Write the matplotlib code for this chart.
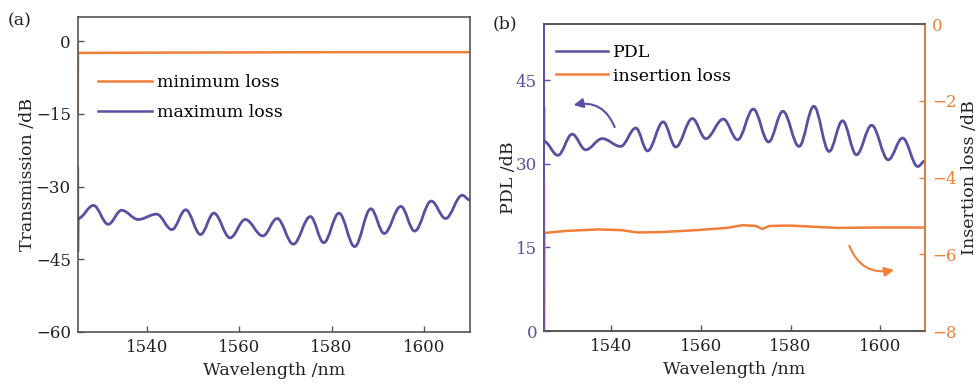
import matplotlib
matplotlib.use("Agg")
import matplotlib.pyplot as plt
from matplotlib.path import Path
from matplotlib.patches import PathPatch
from matplotlib.lines import Line2D

plt.rcParams['font.family'] = ['DejaVu Serif']
plt.rcParams['axes.unicode_minus'] = True

ORANGE = '#f07f3a'
PURPLE = '#5a4fa0'
GRAY = '#555555'
TXT = '#222222'

# (a) transmission
a_max_x = [1525.0, 1525.0, 1525.05, 1528.4, 1531.6, 1534.5, 1538.1, 1542.1, 1545.4,
           1548.4, 1551.6, 1554.5, 1558.0, 1561.3, 1565.1, 1568.2, 1571.7, 1575.4,
           1578.3, 1581.6, 1585.0, 1588.5, 1591.4, 1595.0, 1598.0, 1601.6, 1604.7,
           1608.3, 1610.0]
a_max_y = [-26.0, -43.5, -36.6, -33.9, -37.8, -34.9, -36.8, -35.7, -38.9,
           -34.8, -39.9, -35.5, -40.6, -36.8, -40.2, -36.6, -41.9, -36.2,
           -41.6, -35.5, -42.4, -34.6, -39.7, -34.1, -39.2, -33.0, -36.6,
           -31.8, -32.8]
a_min_x = [1525.0, 1525.0, 1525.05, 1540.0, 1560.0, 1580.0, 1600.0, 1610.0]
a_min_y = [-0.5, -15.3, -2.4, -2.35, -2.3, -2.25, -2.25, -2.25]

# (b) PDL (left axis) and insertion loss (right axis)
b_pdl_x = [1525.0, 1525.0, 1528.1, 1531.3, 1534.3, 1538.0, 1542.1, 1545.5, 1548.1,
           1551.6, 1554.4, 1558.1, 1561.1, 1565.0, 1568.2, 1571.7, 1575.1, 1578.3,
           1581.9, 1585.2, 1588.6, 1591.6, 1594.7, 1598.1, 1601.8, 1605.0, 1608.4,
           1610.0]
b_pdl_y = [40.3, 34.0, 31.5, 35.3, 32.5, 34.5, 33.1, 36.4, 32.3,
           37.5, 33.0, 38.1, 34.5, 38.0, 34.3, 39.8, 33.9, 39.4,
           33.1, 40.3, 32.2, 37.7, 31.6, 36.9, 30.7, 34.6, 29.5,
           30.5]
b_il_x = [1525.0, 1525.0, 1525.05, 1525.3, 1529.8, 1537.2, 1542.4, 1545.8, 1551.1,
          1558.9, 1565.9, 1569.3, 1572.3, 1573.7, 1575.3, 1579.8, 1590.3, 1600.0,
          1610.0]
b_il_y = [-4.1, -8.0, -5.44, -5.44, -5.39, -5.35, -5.37, -5.43, -5.42,
          -5.37, -5.31, -5.24, -5.26, -5.34, -5.26, -5.25, -5.31, -5.30,
          -5.30]

xticks = [1540, 1560, 1580, 1600]
a_yticks = [0, -15, -30, -45, -60]
b_yticks = [0, 15, 30, 45]
b_rticks = [0, -2, -4, -6, -8]


def wavy_path(x, y, n_lead):
    # straight segments for the leading spike, then smooth curves between extrema
    verts = [(x[0], y[0])]
    codes = [Path.MOVETO]
    for i in range(1, n_lead):
        verts.append((x[i], y[i]))
        codes.append(Path.LINETO)
    for i in range(n_lead, len(x)):
        x0, y0, x1, y1 = x[i - 1], y[i - 1], x[i], y[i]
        d = (x1 - x0) * 0.364
        verts += [(x0 + d, y0), (x1 - d, y1), (x1, y1)]
        codes += [Path.CURVE4] * 3
    return Path(verts, codes)


def style_axis(ax):
    ax.tick_params(direction='in', length=4, width=1, labelsize=12, colors=GRAY,
                   labelcolor=TXT, pad=5)
    for s in ax.spines.values():
        s.set_color(GRAY)
        s.set_linewidth(1.2)


fig = plt.figure(figsize=(9.78, 3.84), dpi=100)

# ---- panel (a)
ax1 = fig.add_axes([0.0795, 0.136, 0.4011, 0.8195])
ax1.add_patch(PathPatch(wavy_path(a_max_x, a_max_y, 3), fill=False,
                        edgecolor=PURPLE, lw=2.0))
ax1.plot(a_min_x, a_min_y, color=ORANGE, lw=1.8)
ax1.set_xlim(1525, 1610)
ax1.set_ylim(-60, 5)
ax1.set_xticks(xticks)
ax1.set_yticks(a_yticks)
style_axis(ax1)
ax1.set_xlabel('Wavelength /nm', fontsize=12.5, color=TXT, labelpad=4.5)
ax1.set_ylabel('Transmission /dB', fontsize=12.5, color=TXT, labelpad=0)
h_a = [Line2D([], [], color=ORANGE, lw=1.8), Line2D([], [], color=PURPLE, lw=1.8)]
ax1.legend(h_a, ['minimum loss', 'maximum loss'], loc='center left',
           bbox_to_anchor=(0.052, 0.743), frameon=False, fontsize=12.5,
           handlelength=3.1, handletextpad=0.3, labelspacing=0.75,
           borderpad=0, borderaxespad=0)
fig.text(0.008, 0.935, '(a)', fontsize=12.5, color=TXT)

# ---- panel (b)
ax2 = fig.add_axes([0.5562, 0.138, 0.3896, 0.7987])
ax2.add_patch(PathPatch(wavy_path(b_pdl_x, b_pdl_y, 2), fill=False,
                        edgecolor=PURPLE, lw=2.0))
ax2.set_xlim(1525, 1610)
ax2.set_ylim(0, 55)
ax2.set_xticks(xticks)
ax2.set_yticks(b_yticks)
style_axis(ax2)
ax2.tick_params(axis='y', colors=PURPLE, labelcolor=PURPLE)
ax2.spines['left'].set_color(PURPLE)
ax2.set_xlabel('Wavelength /nm', fontsize=12.5, color=TXT, labelpad=4.5)
ax2.set_ylabel('PDL /dB', fontsize=12.5, color=TXT, labelpad=-1)

ax2r = ax2.twinx()
ax2r.plot(b_il_x, b_il_y, color=ORANGE, lw=1.8)
ax2r.set_ylim(-8, 0)
ax2r.set_yticks(b_rticks)
style_axis(ax2r)
ax2r.tick_params(axis='y', colors=ORANGE, labelcolor=ORANGE)
ax2r.spines['right'].set_color(ORANGE)
ax2r.spines['left'].set_color(PURPLE)
ax2r.set_ylabel('Insertion loss /dB', fontsize=12.5, color=TXT, labelpad=3)

h_b = [Line2D([], [], color=PURPLE, lw=1.8), Line2D([], [], color=ORANGE, lw=1.8)]
ax2r.legend(h_b, ['PDL', 'insertion loss'], loc='center left',
            bbox_to_anchor=(0.032, 0.869), frameon=False, fontsize=12.5,
            handlelength=3.0, handletextpad=0.3, labelspacing=0.35,
            borderpad=0, borderaxespad=0)

ax2.annotate('', xy=(1531.0, 40.4), xytext=(1541.0, 36.1),
             arrowprops=dict(arrowstyle='-|>', connectionstyle='arc3,rad=0.45',
                             color=PURPLE, lw=1.5, mutation_scale=14))
ax2r.annotate('', xy=(1603.7, -6.39), xytext=(1592.9, -5.71),
              arrowprops=dict(arrowstyle='-|>', connectionstyle='arc3,rad=0.45',
                              color=ORANGE, lw=1.5, mutation_scale=14))
fig.text(0.504, 0.925, '(b)', fontsize=12.5, color=TXT)

fig.savefig('out.png', dpi=100)
